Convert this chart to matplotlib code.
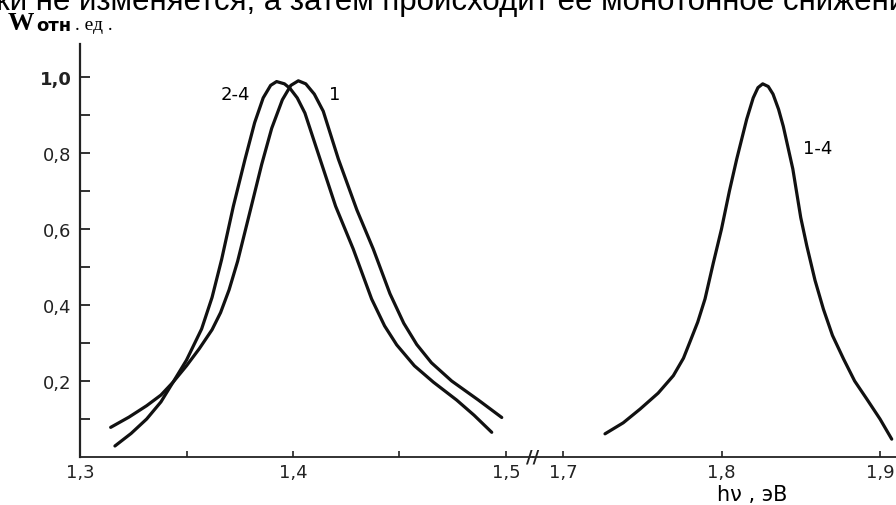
import matplotlib
matplotlib.use("Agg")
import matplotlib.pyplot as plt
from matplotlib.ticker import FixedLocator

# ---- data ----
e_curve1 = [1.3164, 1.3240, 1.3313, 1.3380, 1.3437, 1.3500, 1.3560, 1.3620, 1.3660,
            1.3700, 1.3740, 1.3800, 1.3853, 1.3900, 1.3950, 1.3990, 1.4025, 1.4060,
            1.4100, 1.4142, 1.4213, 1.4300, 1.4377, 1.4455, 1.4520, 1.4581, 1.4650,
            1.4745, 1.4870, 1.4980]
w_curve1 = [0.029, 0.062, 0.100, 0.145, 0.197, 0.240, 0.285, 0.335, 0.380,
            0.440, 0.515, 0.650, 0.770, 0.865, 0.940, 0.978, 0.990, 0.982,
            0.955, 0.910, 0.784, 0.650, 0.547, 0.430, 0.352, 0.296, 0.248,
            0.200, 0.150, 0.104]

e_curve24 = [1.3144, 1.3230, 1.3313, 1.3380, 1.3437, 1.3500, 1.3571, 1.3620, 1.3665,
             1.3720, 1.3775, 1.3820, 1.3860, 1.3895, 1.3923, 1.3960, 1.3986, 1.4020,
             1.4056, 1.4127, 1.4200, 1.4283, 1.4369, 1.4430, 1.4487, 1.4570, 1.4659,
             1.4768, 1.4850, 1.4933]
w_curve24 = [0.078, 0.105, 0.135, 0.163, 0.197, 0.255, 0.337, 0.420, 0.520,
             0.660, 0.784, 0.880, 0.945, 0.978, 0.988, 0.982, 0.970, 0.945,
             0.905, 0.784, 0.660, 0.547, 0.416, 0.345, 0.295, 0.240, 0.197,
             0.150, 0.110, 0.065]

e_curve14 = [1.7265, 1.7380, 1.7486, 1.7600, 1.7696, 1.7760, 1.7800, 1.7850, 1.7896,
             1.7948, 1.8000, 1.8050, 1.8096, 1.8159, 1.8200, 1.8230, 1.8260, 1.8295,
             1.8325, 1.8360, 1.8390, 1.8450, 1.8500, 1.8538, 1.8590, 1.8643, 1.8700,
             1.8770, 1.8840, 1.8916, 1.9000, 1.9074]
w_curve14 = [0.061, 0.090, 0.126, 0.168, 0.214, 0.260, 0.302, 0.355, 0.416,
             0.510, 0.600, 0.700, 0.784, 0.889, 0.945, 0.972, 0.982, 0.975,
             0.955, 0.915, 0.870, 0.758, 0.630, 0.556, 0.465, 0.389, 0.320,
             0.258, 0.200, 0.153, 0.100, 0.047]

left_xticks = [1.3, 1.4, 1.5]
left_xticklabels = ["1,3", "1,4", "1,5"]
left_minor = [1.35, 1.45]
right_xticks = [1.7, 1.8, 1.9]
right_xticklabels = ["1,7", "1,8", "1,9"]
yticks_major = [0.2, 0.4, 0.6, 0.8, 1.0]
yticklabels = ["0,2", "0,4", "0,6", "0,8", "1,0"]
yticks_minor = [0.1, 0.3, 0.5, 0.7, 0.9]

W, H = 896, 506
fig = plt.figure(figsize=(W / 100, H / 100), dpi=100)

x0, x_break, x_end = 80, 533, 896
y_bot, y_top = 458, 45
ax1 = fig.add_axes([x0 / W, (H - y_bot) / H, (x_break - x0) / W, (y_bot - y_top) / H])
ax2 = fig.add_axes([x_break / W, (H - y_bot) / H, (x_end - x_break) / W, (y_bot - y_top) / H])

lw_curve = 2.3
col = "#111111"
for ax, e, w in ((ax1, e_curve1, w_curve1), (ax1, e_curve24, w_curve24),
                 (ax2, e_curve14, w_curve14)):
    ax.plot(e, w, color=col, lw=lw_curve, solid_capstyle="round",
            solid_joinstyle="round")

ymax = (y_bot - y_top) / 380.0
ax1.set_xlim(1.3, 1.3 + (x_break - x0) / 2130.0)
ax2.set_xlim(1.7 - (563 - x_break) / 1585.0, 1.7 + (x_end - 563) / 1585.0)
for ax in (ax1, ax2):
    ax.set_ylim(0, ymax)
    ax.set_facecolor("none")
    ax.spines["top"].set_visible(False)
    ax.spines["right"].set_visible(False)
    ax.spines["bottom"].set_linewidth(1.3)
    ax.spines["bottom"].set_color("#222222")
ax2.spines["left"].set_visible(False)
ax1.spines["left"].set_linewidth(1.6)
ax1.spines["left"].set_color("#222222")

fs = 13
ax1.set_xticks(left_xticks)
ax1.set_xticklabels(left_xticklabels)
ax1.xaxis.set_minor_locator(FixedLocator(left_minor))
ax2.set_xticks(right_xticks)
ax2.set_xticklabels(right_xticklabels)
ax2.set_yticks([])
for ax in (ax1, ax2):
    ax.tick_params(axis="x", which="both", direction="in", length=4, width=1.2,
                   labelsize=fs, pad=4, colors="#222222")
ax1.set_yticks(yticks_major)
ax1.set_yticklabels(yticklabels)
ax1.yaxis.set_minor_locator(FixedLocator(yticks_minor))
ax1.tick_params(axis="y", which="both", direction="in", length=7, width=1.3,
                labelsize=fs, pad=6, colors="#222222")
ax1.get_yticklabels()[-1].set_fontweight("bold")

# axis break mark
ax1.text(1.0, 0.0, "//", transform=ax1.transAxes, ha="center", va="center",
         fontsize=13, color="#222222", fontweight="bold")

# curve labels
ax1.text(1.3728, 0.955, "2-4", fontsize=13, ha="center", va="center")
ax1.text(1.4197, 0.955, "1", fontsize=13, ha="center", va="center")
ax2.text(1.8609, 0.813, "1-4", fontsize=13, ha="center", va="center")

# axis titles
fig.text(752 / W, 1 - 495 / H, "hν , эВ", fontsize=15, ha="center", va="center")
fig.text(8 / W, 1 - 30 / H, "W", fontsize=19, family="Liberation Serif",
         fontweight="bold", va="baseline")
fig.text(36 / W, 1 - 31 / H, "отн", fontsize=13, fontweight="bold", va="baseline")
fig.text(75 / W, 1 - 30 / H, ". ед .", fontsize=14, family="Liberation Serif",
         va="baseline")
# cut-off line of running text at top of the scan
fig.text(-0.004, 1 - 10 / H, "ки не изменяется, а затем происходит ее монотонное снижение",
         fontsize=22.5, family="Liberation Sans", va="baseline", ha="left")

fig.savefig("out.png", dpi=100)
